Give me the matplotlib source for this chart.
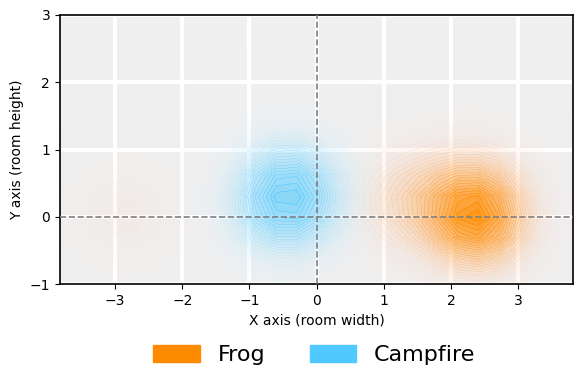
import numpy as np
import matplotlib
matplotlib.use("Agg")
import matplotlib.pyplot as plt
from matplotlib.colors import LinearSegmentedColormap
from matplotlib.patches import Patch

# Observed positions (room coordinates) with relative weights
frog_x = [2.4, 2.4, 2.4, 2.1, 2.7, 1.3, 1.0, 1.6, -3.0, -2.6]
frog_y = [0.0, 0.6, -0.3, 0.0, 0.0, 0.3, 0.1, 0.4, 0.0, 0.1]
frog_w = [5.0, 1.0, 0.8, 0.8, 0.6, 1.3, 0.8, 0.8, 0.9, 0.5]
camp_x = [-0.6, -0.3, -0.5, -0.1, -0.9, -0.3, 0.1, -0.8]
camp_y = [0.5, 0.4, 0.0, 0.1, 0.2, 0.8, 0.3, -0.2]
camp_w = [2.0, 1.5, 1.5, 1.5, 1.0, 0.8, 0.6, 0.6]

labels = ["Frog", "Campfire"]
colors = ["#ff8c00", "#4fc9ff"]

gx = np.arange(-3.9, 3.91, 0.3)
gy = np.arange(-1.2, 3.01, 0.3)
GX, GY = np.meshgrid(gx, gy)


def kde(xs, ys, ws, bw):
    z = np.zeros_like(GX)
    for x, y, w in zip(xs, ys, ws):
        z += w * np.exp(-((GX - x) ** 2 + (GY - y) ** 2) / (2 * bw ** 2))
    return z / z.max()


fig = plt.figure(figsize=(5.82, 3.84), dpi=100)
ax = fig.add_axes([0.103, 0.260, 0.882, 0.701])
ax.set_facecolor("#efefef")
ax.grid(True, color="white", linewidth=3, zorder=0)
ax.set_axisbelow(True)

cmaps = [
    LinearSegmentedColormap.from_list(
        "frog", [(1.0, 0.88, 0.88, 0.0), (1.0, 0.55, 0.0, 0.9)]),
    LinearSegmentedColormap.from_list(
        "camp", [(1.0, 1.0, 1.0, 0.0), (0.31, 0.79, 1.0, 0.65)]),
]

for xs, ys, ws, cm, bw in [(frog_x, frog_y, frog_w, cmaps[0], 0.55),
                           (camp_x, camp_y, camp_w, cmaps[1], 0.62)]:
    z = kde(xs, ys, ws, bw)
    levels = np.linspace(0.003, 1.0, 30)
    ax.contourf(GX, GY, z, levels=levels, cmap=cm, zorder=1)

ax.axhline(0, color="gray", linestyle="--", linewidth=1.2, zorder=3)
ax.axvline(0, color="gray", linestyle="--", linewidth=1.2, zorder=3)

ax.set_xlim(-3.82, 3.82)
ax.set_ylim(-1, 3)
ax.set_xticks([-3, -2, -1, 0, 1, 2, 3])
ax.set_yticks([-1, 0, 1, 2, 3])
ax.set_xlabel("X axis (room width)")
ax.set_ylabel("Y axis (room height)")
for s in ax.spines.values():
    s.set_color("black")
    s.set_linewidth(1.2)

handles = [Patch(color=c, label=l) for c, l in zip(colors, labels)]
fig.legend(handles=handles, loc="center", bbox_to_anchor=(0.54, 0.075), ncol=2,
           frameon=False, fontsize=16, handlelength=2.1, handleheight=0.8,
           columnspacing=2.0)

fig.savefig("out.png", dpi=100)
